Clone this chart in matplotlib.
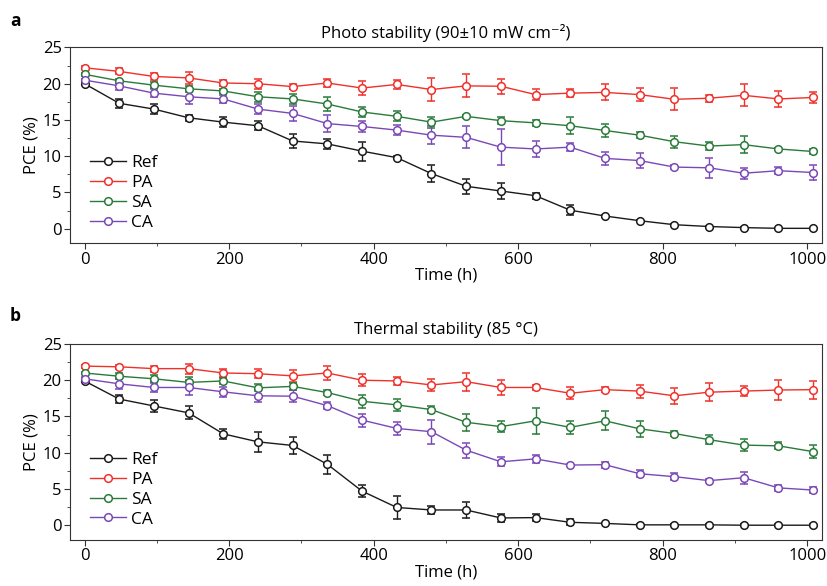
import matplotlib
matplotlib.use("Agg")
import matplotlib.pyplot as plt
import numpy as np
from matplotlib.lines import Line2D
from matplotlib.ticker import MultipleLocator

plt.rcParams["font.family"] = ["Open Sans", "DejaVu Sans"]

time_h = [0, 48, 96, 144, 192, 240, 288, 336, 384, 432, 480,
          528, 576, 624, 672, 720, 768, 816, 864, 912, 960, 1008]
series_names = ["Ref", "PA", "SA", "CA"]

# Photo stability (panel a)
photo_ref = [20.0, 17.3, 16.5, 15.3, 14.7, 14.2, 12.1, 11.7, 10.7, 9.8, 7.6,
             5.85, 5.2, 4.55, 2.55, 1.75, 1.1, 0.55, 0.3, 0.15, 0.05, 0.05]
photo_ref_err = [0.2, 0.6, 0.7, 0.4, 0.7, 0.6, 1.0, 0.7, 1.3, 0.2, 1.15,
                 1.05, 1.1, 0.4, 0.7, 0.1, 0.1, 0.1, 0.1, 0.1, 0.1, 0.1]
photo_pa = [22.2, 21.7, 21.0, 20.8, 20.1, 20.0, 19.6, 20.1, 19.4, 19.9, 19.2,
            19.7, 19.65, 18.5, 18.7, 18.8, 18.5, 17.85, 18.0, 18.4, 17.9, 18.1]
photo_pa_err = [0.2, 0.4, 0.5, 0.8, 0.4, 0.7, 0.3, 0.6, 1.0, 0.6, 1.6,
                1.6, 1.05, 0.8, 0.6, 1.1, 0.85, 1.5, 0.5, 1.5, 1.15, 0.8]
photo_sa = [21.3, 20.4, 19.8, 19.3, 19.0, 18.2, 17.9, 17.2, 16.1, 15.5, 14.7,
            15.5, 14.9, 14.6, 14.2, 13.55, 12.9, 12.0, 11.4, 11.6, 11.0, 10.65]
photo_sa_err = [0.2, 0.3, 0.4, 0.4, 0.3, 0.7, 0.7, 1.0, 0.7, 0.7, 0.75,
                0.2, 0.5, 0.4, 1.15, 0.85, 0.4, 0.85, 0.5, 1.2, 0.2, 0.4]
photo_ca = [20.5, 19.7, 18.7, 18.2, 17.9, 16.5, 15.9, 14.5, 14.1, 13.6, 12.9,
            12.6, 11.25, 11.0, 11.25, 9.7, 9.4, 8.5, 8.4, 7.65, 8.0, 7.75]
photo_ca_err = [0.2, 0.5, 0.6, 1.0, 0.6, 0.7, 1.0, 1.2, 0.8, 0.7, 1.25,
                1.5, 2.5, 1.1, 0.6, 0.9, 1.05, 0.3, 1.35, 0.75, 0.45, 1.1]

# Thermal stability (panel b)
thermal_ref = [19.9, 17.4, 16.45, 15.5, 12.6, 11.5, 11.0, 8.4, 4.7, 2.45, 2.1,
               2.1, 1.0, 1.05, 0.4, 0.25, 0.05, 0.05, 0.05, 0.0, 0.0, 0.0]
thermal_ref_err = [0.2, 0.5, 0.8, 0.9, 0.7, 1.4, 1.2, 1.3, 0.8, 1.6, 0.5,
                   1.1, 0.5, 0.5, 0.4, 0.1, 0.1, 0.1, 0.1, 0.1, 0.1, 0.1]
thermal_pa = [21.95, 21.85, 21.6, 21.6, 21.0, 20.9, 20.6, 21.0, 20.0, 19.9, 19.35,
              19.8, 19.0, 19.0, 18.2, 18.7, 18.5, 17.85, 18.35, 18.5, 18.65, 18.7]
thermal_pa_err = [0.2, 0.3, 0.4, 0.7, 0.5, 0.6, 0.8, 0.9, 0.8, 0.5, 0.85,
                  1.25, 1.1, 0.3, 0.8, 0.3, 0.9, 1.1, 1.2, 0.7, 1.35, 1.25]
thermal_sa = [21.0, 20.55, 20.2, 19.7, 19.9, 18.95, 19.15, 18.3, 17.1, 16.6, 15.95,
              14.2, 13.6, 14.4, 13.5, 14.4, 13.3, 12.65, 11.8, 11.05, 10.95, 10.15]
thermal_sa_err = [0.2, 0.4, 0.5, 0.7, 0.4, 0.5, 0.5, 0.4, 0.9, 0.8, 0.5,
                  1.2, 0.8, 1.8, 0.9, 1.3, 1.1, 0.4, 0.6, 0.8, 0.5, 0.9]
thermal_ca = [20.2, 19.5, 19.0, 19.0, 18.4, 17.85, 17.8, 16.5, 14.5, 13.35, 12.9,
              10.35, 8.75, 9.15, 8.3, 8.35, 7.1, 6.7, 6.15, 6.55, 5.15, 4.85]
thermal_ca_err = [0.2, 0.7, 0.6, 1.0, 0.7, 0.9, 0.8, 0.5, 0.9, 0.9, 1.65,
                  1.05, 0.6, 0.5, 0.2, 0.4, 0.5, 0.5, 0.2, 0.8, 0.4, 0.4]

colors = ["#1a1a1a", "#F0302A", "#2A7A3A", "#7A48B6"]

panels = [
    ("a", "Photo stability (90\u00b110 mW cm\u207b\u00b2)",
     [photo_ref, photo_pa, photo_sa, photo_ca],
     [photo_ref_err, photo_pa_err, photo_sa_err, photo_ca_err]),
    ("b", "Thermal stability (85 \u00b0C)",
     [thermal_ref, thermal_pa, thermal_sa, thermal_ca],
     [thermal_ref_err, thermal_pa_err, thermal_sa_err, thermal_ca_err]),
]

fig = plt.figure(figsize=(8.27, 5.86), dpi=100)
axes_rects = [[0.0847, 0.585, 0.909, 0.334], [0.0847, 0.079, 0.909, 0.334]]
letter_y = [0.965, 0.46]
marker_style = dict(marker="o", ms=5.5, mfc="white", mew=1.1, lw=1.0)

for (letter, title, values, errors), rect, ly in zip(panels, axes_rects, letter_y):
    ax = fig.add_axes(rect)
    handles = []
    for name, vals, errs, color in zip(series_names, values, errors, colors):
        ax.errorbar(time_h, vals, yerr=errs, color=color, mec=color,
                    capsize=3, elinewidth=1.0, capthick=1.0, **marker_style)
        handles.append(Line2D([], [], color=color, mec=color, label=name, **marker_style))
    ax.set_xlim(-20, 1020)
    ax.set_ylim(-2, 25)
    ax.xaxis.set_major_locator(MultipleLocator(200))
    ax.xaxis.set_minor_locator(MultipleLocator(100))
    ax.yaxis.set_major_locator(MultipleLocator(5))
    ax.yaxis.set_minor_locator(MultipleLocator(2.5))
    ax.tick_params(which="both", direction="out", labelsize=12, color="#333333", pad=2)
    ax.tick_params(which="major", length=4)
    ax.tick_params(which="minor", length=2.5)
    for sp in ax.spines.values():
        sp.set_color("#333333")
    ax.set_xlabel("Time (h)", fontsize=12, labelpad=0)
    ax.set_ylabel("PCE (%)", fontsize=12, labelpad=2)
    ax.set_title(title, fontsize=12, pad=7)
    ax.legend(handles=handles, loc="lower left", frameon=False, fontsize=12.5,
              handlelength=2.1, handletextpad=0.3, labelspacing=0.22,
              borderaxespad=0.3, bbox_to_anchor=(0.01, 0.0))
    fig.text(0.012, ly, letter, fontsize=12.5, fontweight="bold", va="center")

fig.savefig("out.png", dpi=100)
